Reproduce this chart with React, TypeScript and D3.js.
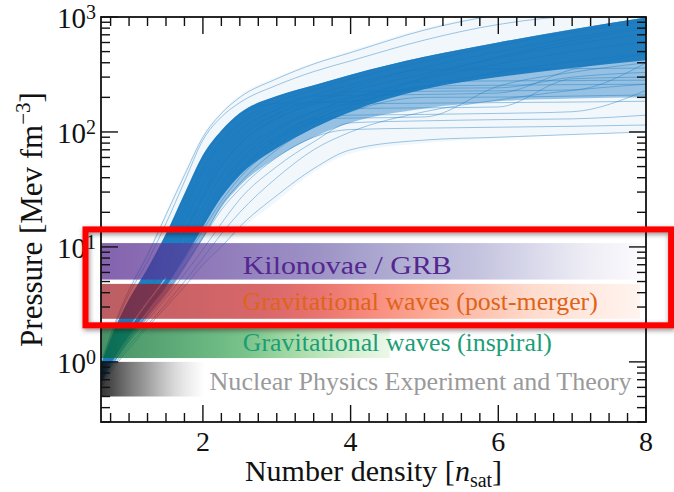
import React from "react";
import * as d3 from "d3";

const W = 674, H = 492;
const margin = { top: 17, right: 28, bottom: 70, left: 101 };

const xDomain = [0.62, 8];
const yDomain = [0.3, 1000];
const xMajorTicks = [2, 4, 6, 8];
const yMajorTicks = [1, 10, 100, 1000];
const yTickExps = ["0", "1", "2", "3"];

// density grid in n_sat shared by every EOS sample
const density = [0.62, 0.8, 1.0, 1.25, 1.5, 1.75, 2.0, 2.25, 2.5, 3.0, 3.5, 4.0, 5.0, 6.0, 7.0, 8.0];

// envelopes of the posterior (pressure, MeV fm^-3)
const haloUpper = [1.0, 2.2, 4.5, 9, 20, 45, 95, 150, 210, 300, 400, 510, 800, 1100, 1400, 1700];
const haloLower = [0.6, 0.9, 1.3, 2.0, 3.0, 4.5, 7, 10, 14, 25, 45, 65, 80, 88, 95, 100];
const bodyLower = [0.65, 1.0, 1.5, 2.4, 3.8, 6.5, 12, 22, 34, 60, 90, 120, 160, 185, 195, 200];
const coreUpper = [0.95, 1.9, 3.5, 6.5, 13, 29, 63, 103, 146, 205, 255, 315, 450, 600, 780, 990];
const coreLower = [0.7, 1.1, 1.7, 2.8, 4.5, 8, 15, 27, 42, 72, 108, 150, 235, 300, 360, 420];

// individual EOS draws
const eosSamples = [
  [0.9, 1.8, 3.3, 6.0, 12, 27, 58, 98, 140, 200, 250, 310, 445, 595, 775, 980],
  [0.85, 1.6, 3.0, 5.5, 11, 23, 50, 85, 122, 182, 232, 288, 410, 565, 740, 920],
  [0.8, 1.4, 2.6, 4.6, 9, 17, 36, 68, 100, 158, 208, 258, 365, 500, 660, 830],
  [0.75, 1.3, 2.2, 3.8, 7, 13, 26, 50, 78, 130, 178, 225, 320, 440, 580, 720],
  [0.72, 1.2, 1.9, 3.2, 5.5, 10, 19, 36, 56, 102, 150, 195, 290, 390, 500, 610],
  [0.7, 1.1, 1.7, 2.8, 4.6, 8, 15, 28, 44, 82, 125, 168, 250, 330, 410, 480],
  [0.7, 1.1, 1.8, 3.0, 5, 9, 17, 33, 52, 92, 130, 132, 135, 250, 330, 400],
  [0.8, 1.5, 2.8, 5.0, 10, 21, 46, 80, 115, 168, 205, 207, 212, 218, 350, 480],
  [0.7, 1.0, 1.6, 2.6, 4.2, 7, 12, 21, 32, 60, 90, 105, 108, 110, 112, 115],
  [1.0, 2.1, 4.2, 8.5, 19, 42, 90, 145, 200, 290, 390, 490, 770, 1050, 1300, 1600],
  [0.65, 0.95, 1.4, 2.1, 3.2, 5, 8, 13, 20, 40, 70, 100, 150, 190, 230, 260],
  [0.75, 1.3, 2.3, 4.0, 7.5, 14, 29, 57, 86, 142, 182, 225, 226, 228, 232, 400],
  [0.6, 0.9, 1.3, 2.0, 3.0, 4.5, 7, 10, 15, 28, 48, 70, 85, 90, 95, 100],
  [0.9, 1.7, 3.1, 5.8, 12, 26, 60, 100, 140, 178, 180, 182, 300, 450, 620, 800],
  [0.78, 1.35, 2.4, 4.2, 8, 16, 33, 62, 92, 145, 190, 240, 350, 352, 355, 360],
  [0.72, 1.15, 1.8, 3.0, 5, 9, 16, 30, 46, 86, 126, 160, 162, 165, 290, 300],
  [0.68, 1.05, 1.6, 2.6, 4.0, 6.8, 12, 23, 36, 70, 110, 150, 200, 201, 205, 210],
  [0.95, 2.0, 3.9, 7.5, 16, 37, 85, 135, 180, 255, 335, 415, 630, 860, 1000, 1000],
  [0.74, 1.25, 2.0, 3.4, 6, 11, 22, 42, 64, 108, 150, 175, 178, 180, 182, 185],
  [0.82, 1.5, 2.7, 4.8, 9.5, 19, 42, 75, 106, 155, 182, 184, 250, 255, 258, 260],
  [0.66, 1.0, 1.5, 2.3, 3.6, 5.8, 9.5, 16, 26, 50, 82, 120, 125, 128, 130, 140],
  [0.76, 1.3, 2.2, 3.9, 7.2, 13.5, 27, 52, 80, 132, 172, 200, 240, 242, 300, 330],
  [0.7, 1.12, 1.75, 2.9, 4.8, 8.5, 16, 30, 47, 88, 135, 180, 275, 278, 280, 282],
  [0.69, 1.08, 1.65, 2.7, 4.4, 7.6, 14, 25, 40, 76, 120, 140, 142, 145, 150, 230],
];

// thin gap between the two low-density strands
const gapDensity = [1.05, 1.2, 1.35, 1.5];
const gapPressure = [2.2, 3.0, 4.0, 5.4];

// constraint bands
const bandLow = [5.2, 2.37, 1.08, 0.5];
const bandHigh = [10.8, 4.77, 2.0, 1.0];
const bandEnd = [7.92, 7.92, 4.53, 2.03];
const bandLabels = [
  "Kilonovae / GRB",
  "Gravitational waves (post-merger)",
  "Gravitational waves (inspiral)",
  "Nuclear Physics Experiment and Theory",
];
const bandLabelX = [2.54, 2.54, 2.54, 2.09];
const bandLabelY = [5.85, 2.8, 1.25, 0.57];
const bandLabelWidth = [209, 355, 309, 422];
const bandLabelColors = ["#54278f", "#de6418", "#1b9e77", "#9a9a9a"];

// highlighted region (red box)
const boxX = [0.41, 8.34];
const boxY = [2.08, 14.2];

const font = "Liberation Serif, DejaVu Serif, serif";
const blue = "#1778be";

const App = () => {
  const x = d3.scaleLinear().domain(xDomain).range([margin.left, W - margin.right]);
  const y = d3.scaleLog().domain(yDomain).range([H - margin.bottom, margin.top]);
  const x0 = x.range()[0], x1 = x.range()[1];
  const y0 = y.range()[0], y1 = y.range()[1];

  const area = (lo, hi) =>
    d3.area().x((d, i) => x(density[i])).y0((d, i) => y(lo[i])).y1((d, i) => y(hi[i]))
      .curve(d3.curveMonotoneX)(density);
  const line = d3.line().x((d) => x(d[0])).y((d) => y(d[1])).curve(d3.curveMonotoneX);

  // colour-map level along each band (left -> right)
  const bandRamps = [
    [d3.interpolatePurples, [0, 0.4, 0.75, 1], [0.9, 0.7, 0.4, 0.03]],
    [d3.interpolateReds, [0, 0.35, 0.6, 0.8, 1], [0.9, 0.75, 0.45, 0.2, 0.04]],
    [d3.interpolateGreens, [0, 0.5, 1], [0.9, 0.62, 0.12]],
    [d3.interpolateGreys, [0, 1], [1, 0]],
  ];
  const bandOpacity = [0.7, 0.66, 0.72, 0.8];
  const stops = d3.range(0, 1.0001, 0.1);

  const xMinor = d3.range(0.75, 8.001, 0.25).filter((v) => !xMajorTicks.includes(v));
  const yMinor = [];
  [0.1, 1, 10, 100].forEach((d) => d3.range(2, 10).forEach((k) => {
    const v = k * d;
    if (v >= yDomain[0] && v <= yDomain[1]) yMinor.push(v);
  }));
  const major = 17, minor = 9;

  return (
    <svg width={W} height={H} style={{ position: "absolute", left: 0, top: 0, fontFamily: font }}>
      <defs>
        <clipPath id="plot">
          <rect x={x0} y={y1} width={x1 - x0} height={y0 - y1} />
        </clipPath>
        {bandRamps.map(([cm, pos, lev], i) => {
          const level = d3.scaleLinear().domain(pos).range(lev);
          return (
            <linearGradient key={i} id={`band${i}`} gradientUnits="userSpaceOnUse"
              x1={x(xDomain[0])} x2={x(bandEnd[i])} y1={0} y2={0}>
              {stops.map((t) => <stop key={t} offset={t} stopColor={cm(level(t))} />)}
            </linearGradient>
          );
        })}
        <filter id="glow" x="-5%" y="-20%" width="110%" height="140%">
          <feDropShadow dx="1" dy="2" stdDeviation="2.5" floodColor="#000" floodOpacity="0.45" />
        </filter>
      </defs>
      <rect width={W} height={H} fill="#fff" />

      <g clipPath="url(#plot)">
        <path d={area(haloLower, haloUpper)} fill={blue} opacity={0.06} />
        <path d={area(bodyLower, coreUpper)} fill={blue} opacity={0.42} />
        {eosSamples.map((s, i) => (
          <path key={i} d={line(s.map((p, j) => [density[j], p]))} fill="none"
            stroke={blue} strokeWidth={0.9} opacity={0.45} />
        ))}
        <path d={area(coreLower, coreUpper)} fill={blue} opacity={0.93} />
        <path d={line(gapDensity.map((d, i) => [d, gapPressure[i]]))} fill="none"
          stroke="#fff" strokeWidth={1.2} opacity={0.55} />

        {bandLow.map((lo, i) => (
          <rect key={i} x={x(xDomain[0])} width={x(bandEnd[i]) - x(xDomain[0])}
            y={y(bandHigh[i])} height={y(lo) - y(bandHigh[i])}
            fill={`url(#band${i})`} opacity={bandOpacity[i]} />
        ))}
      </g>

      {bandLabels.map((t, i) => (
        <text key={t} x={x(bandLabelX[i])} y={y(bandLabelY[i])} fontSize={26}
          textLength={bandLabelWidth[i]} lengthAdjust="spacingAndGlyphs"
          fill={bandLabelColors[i]} style={{ fontFamily: font }}>{t}</text>
      ))}

      {/* axes frame with mirrored inward ticks */}
      <g stroke="#111" strokeWidth={1.4}>
        {xMajorTicks.map((v) => (
          <g key={v}>
            <line x1={x(v)} x2={x(v)} y1={y0} y2={y0 - major} />
            <line x1={x(v)} x2={x(v)} y1={y1} y2={y1 + major} />
          </g>
        ))}
        {xMinor.map((v) => (
          <g key={v}>
            <line x1={x(v)} x2={x(v)} y1={y0} y2={y0 - minor} />
            <line x1={x(v)} x2={x(v)} y1={y1} y2={y1 + minor} />
          </g>
        ))}
        {yMajorTicks.map((v) => (
          <g key={v}>
            <line x1={x0} x2={x0 + major} y1={y(v)} y2={y(v)} />
            <line x1={x1} x2={x1 - major} y1={y(v)} y2={y(v)} />
          </g>
        ))}
        {yMinor.map((v) => (
          <g key={v}>
            <line x1={x0} x2={x0 + minor} y1={y(v)} y2={y(v)} />
            <line x1={x1} x2={x1 - minor} y1={y(v)} y2={y(v)} />
          </g>
        ))}
        <rect x={x0} y={y1} width={x1 - x0} height={y0 - y1} fill="none" strokeWidth={1.8} />
      </g>

      {xMajorTicks.map((v) => (
        <text key={v} x={x(v)} y={y0 + 29} fontSize={28} textAnchor="middle" fill="#111"
          style={{ fontFamily: font }}>{v}</text>
      ))}
      {yMajorTicks.map((v, i) => (
        <text key={v} x={x0 - 5} y={y(v) + 11} fontSize={29} textAnchor="end" fill="#111"
          style={{ fontFamily: font }}>
          10<tspan fontSize={20} dy={-9}>{yTickExps[i]}</tspan>
        </text>
      ))}

      <text x={(x0 + x1) / 2} y={H - 11} fontSize={30} textAnchor="middle" fill="#111"
        style={{ fontFamily: font }}>
        Number density [<tspan fontStyle="italic">n</tspan>
        <tspan fontSize={20} dy={6}>sat</tspan><tspan dy={-6}>]</tspan>
      </text>
      <text transform={`translate(42,${(y0 + y1) / 2}) rotate(-90)`} fontSize={31}
        textAnchor="middle" fill="#111" style={{ fontFamily: font }}>
        Pressure [Mev fm<tspan fontSize={21} dy={-12}>−3</tspan><tspan dy={12}>]</tspan>
      </text>

      <rect x={x(boxX[0])} y={y(boxY[1])} width={x(boxX[1]) - x(boxX[0])}
        height={y(boxY[0]) - y(boxY[1])} fill="none" stroke="#ff0000" strokeWidth={6}
        filter="url(#glow)" />
    </svg>
  );
};

export default App;
